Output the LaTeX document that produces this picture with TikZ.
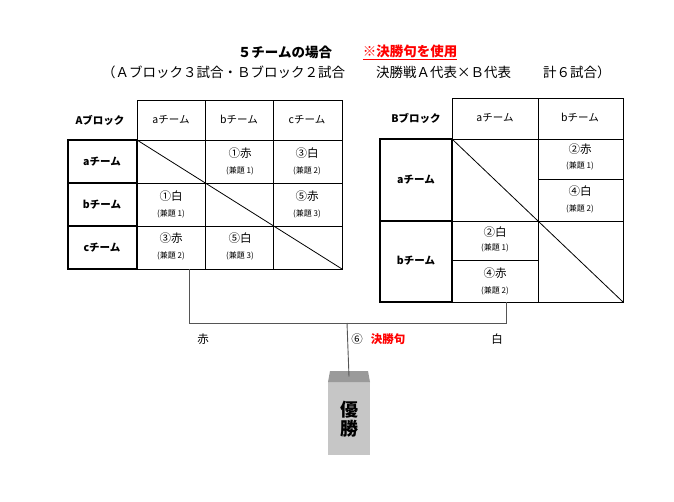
\documentclass[tikz,border=0pt]{standalone}
\usepackage{fontspec}
\setmainfont{Noto Sans CJK JP}
\definecolor{jred}{HTML}{FF0000}
\definecolor{conn}{HTML}{555555}
\definecolor{tropbody}{HTML}{C6C6C6}
\definecolor{troptop}{HTML}{9A9A9A}
\begin{document}
\begin{tikzpicture}[x=1pt,y=-1pt,
  thin grid/.style={line width=0.8pt},
  thick box/.style={line width=1.8pt},
  hdr/.style={font=\fontsize{10.5}{11}\selectfont, inner sep=0pt},
  bhdr/.style={font=\fontsize{10.5}{11}\selectfont\bfseries, inner sep=0pt},
  res/.style={font=\fontsize{11.5}{12}\selectfont, inner sep=0pt},
  kendai/.style={font=\fontsize{8}{9}\selectfont, inner sep=0pt},
  title/.style={font=\fontsize{13.5}{15}\selectfont, inner sep=0pt},
  conline/.style={draw=conn, line width=0.9pt}]
\useasboundingbox (0,0) rectangle (674,501);
% ---------- titles ----------
\node[title, font=\fontsize{13.5}{15}\selectfont\bfseries] (t1) at (285,52) {５チームの場合};
\node[title, font=\fontsize{13.5}{15}\selectfont\bfseries, text=jred] (t2) at (410,52) {\underline{※決勝句を使用}};
\node[title, anchor=west] (t3) at (102,72) {（Ａブロック３試合・Ｂブロック２試合};
\node[title, anchor=west] (t4) at (376,72) {決勝戦Ａ代表×Ｂ代表};
\node[title, anchor=west] (t5) at (543,72) {計６試合）};
% ---------- table A ----------
\draw[thin grid] (137,100) rectangle (342,269);
\draw[thin grid] (205,100) -- (205,269);
\draw[thin grid] (273,100) -- (273,269);
\draw[thin grid] (137,140) -- (342,140);
\draw[thin grid] (137,183) -- (342,183);
\draw[thin grid] (137,226) -- (342,226);
\draw[thin grid] (137,140) -- (342,269);
\draw[thick box] (68,140) rectangle (137,183);
\draw[thick box] (68,183) rectangle (137,226);
\draw[thick box] (68,226) rectangle (137,269);
\node[bhdr] (ahd) at (100,120) {Aブロック};
\node[hdr] (aca) at (171,120) {aチーム};
\node[hdr] (acb) at (239,120) {bチーム};
\node[hdr] (acc) at (307,120) {cチーム};
\node[bhdr] (ara) at (102,162) {aチーム};
\node[bhdr] (arb) at (102,205) {bチーム};
\node[bhdr] (arc) at (102,248) {cチーム};
\node[res] (ab1) at (240,153) {①赤};
\node[kendai] (ab1k) at (240,171) {(兼題 1)};
\node[res] (ac1) at (307,153) {③白};
\node[kendai] (ac1k) at (307,171) {(兼題 2)};
\node[res] (ba1) at (171,196) {①白};
\node[kendai] (ba1k) at (171,214) {(兼題 1)};
\node[res] (bc1) at (307,196) {⑤赤};
\node[kendai] (bc1k) at (307,214) {(兼題 3)};
\node[res] (ca1) at (171,238) {③赤};
\node[kendai] (ca1k) at (171,256) {(兼題 2)};
\node[res] (cb1) at (240,238) {⑤白};
\node[kendai] (cb1k) at (240,256) {(兼題 3)};
% ---------- table B ----------
\draw[thin grid] (452,98) rectangle (623,302);
\draw[thin grid] (538,98) -- (538,302);
\draw[thin grid] (452,139) -- (623,139);
\draw[thin grid] (452,221) -- (623,221);
\draw[thin grid] (538,179) -- (623,179);
\draw[thin grid] (452,260) -- (538,260);
\draw[thin grid] (452,139) -- (623,302);
\draw[thick box] (380,139) rectangle (452,221);
\draw[thick box] (380,221) rectangle (452,302);
\node[bhdr] (bhd) at (416,118) {Bブロック};
\node[hdr] (bca) at (495,118) {aチーム};
\node[hdr] (bcb) at (580,118) {bチーム};
\node[bhdr] (bra) at (416,180) {aチーム};
\node[bhdr] (brb) at (416,261) {bチーム};
\node[res] (bab2) at (580,149) {②赤};
\node[kendai] (bab2k) at (580,166) {(兼題 1)};
\node[res] (bab4) at (580,191) {④白};
\node[kendai] (bab4k) at (580,209) {(兼題 2)};
\node[res] (bba2) at (495,232) {②白};
\node[kendai] (bba2k) at (495,248) {(兼題 1)};
\node[res] (bba4) at (495,273) {④赤};
\node[kendai] (bba4k) at (495,291) {(兼題 2)};
% ---------- final ----------
\coordinate (aout) at (189,269);
\coordinate (ajoin) at (189,323);
\coordinate (bout) at (506,302);
\coordinate (bjoin) at (506,323);
\coordinate (mid) at (347,323);
\fill[tropbody] (328,382) rectangle (370,455);
\fill[troptop] (328,382) -- (330,371) -- (368,371) -- (370,382) -- cycle;
\node[inner sep=0pt, minimum width=42pt, minimum height=11pt] (trophy) at (349,376.5) {};
\node[inner sep=0pt, align=center, font=\fontsize{18}{19}\selectfont\bfseries] (win) at (349,419) {優\\勝};
\draw[conline] (aout) -- (ajoin) -- (bjoin) -- (bout);
\draw[conline] (mid) -- (trophy.center);
\node[res] (lred) at (203,339) {赤};
\node[res] (lfin) at (357,339) {⑥};
\node[res, font=\fontsize{11.5}{12}\selectfont\bfseries, text=jred] (lfin2) at (388,339) {決勝句};
\node[res] (lwhite) at (497,339) {白};
\end{tikzpicture}
\end{document}
